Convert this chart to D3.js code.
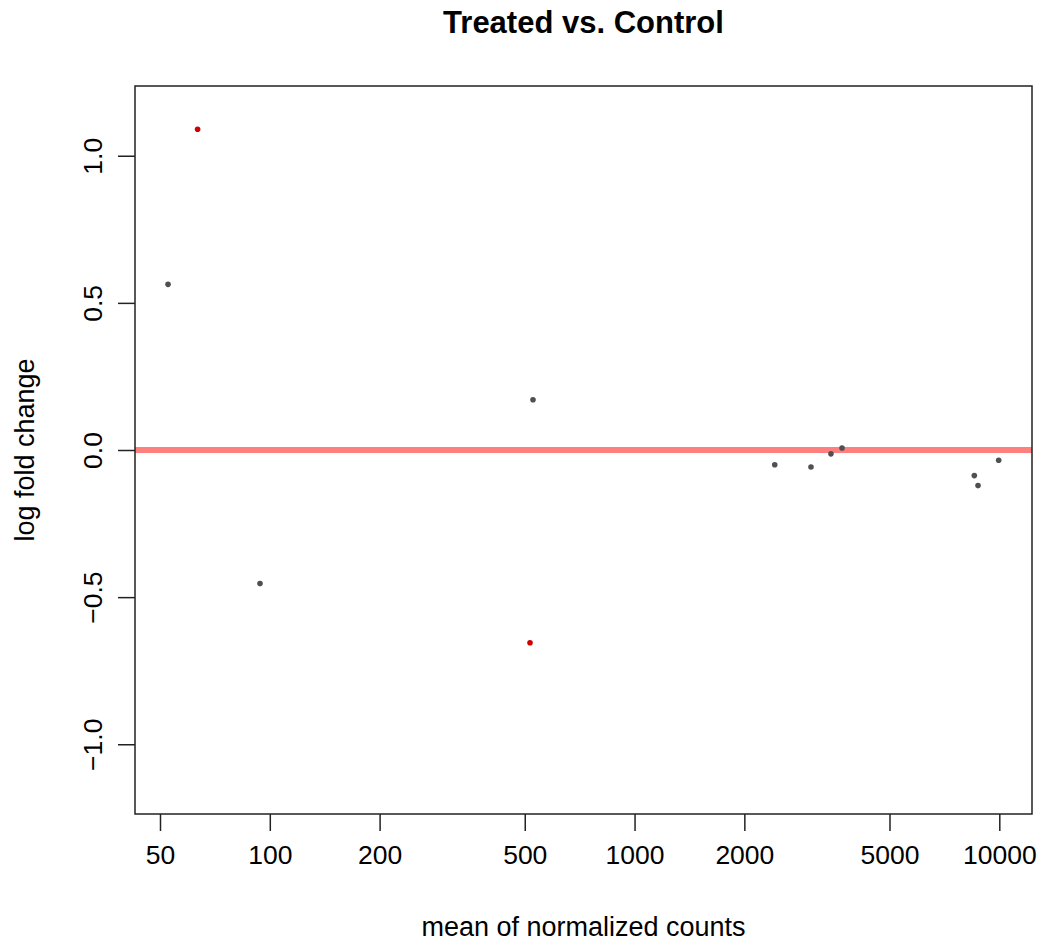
<!DOCTYPE html>
<html>
<head>
<meta charset="utf-8">
<script src="https://cdn.jsdelivr.net/npm/d3@7"></script>
<style>
  body { margin: 0; background: #fff; }
  text { font-family: "Liberation Sans", Arial, sans-serif; fill: #000; }
</style>
</head>
<body>
<div id="chart"></div>
<script>
// mean of normalized counts, log fold change, significant?
let baseMean = [63.4, 52.6, 94.0, 526.7, 516.9, 2423, 3046, 3455, 3705, 8541, 8743, 9961];
let log2FC = [1.090, 0.563, -0.454, 0.171, -0.655, -0.050, -0.058, -0.013, 0.007, -0.087, -0.121, -0.035];
let isSig = [true, false, false, false, true, false, false, false, false, false, false, false];

let xTicks = [50, 100, 200, 500, 1000, 2000, 5000, 10000];
let yTicks = [-1.0, -0.5, 0.0, 0.5, 1.0];

function drawPlot() {
	let width = 1045;
	let height = 947;
	let margin = {top: 86, right: 13, bottom: 133, left: 135};

	let svg = d3.select("#chart")
		.append("svg")
		.attr("width", width)
		.attr("height", height);

	//scales
	const xScale = d3.scaleLog()
		.domain([42.7, 12293])
		.range([margin.left, width - margin.right]);

	const yScale = d3.scaleLinear()
		.domain([-1.237, 1.237])
		.range([height - margin.bottom, margin.top]);

	//x axis
	const xAxis = d3.axisBottom(xScale)
		.tickValues(xTicks)
		.tickFormat(d3.format("d"))
		.tickSize(17)
		.tickPadding(14)
		.tickSizeOuter(0);

	let gx = svg.append("g")
		.attr("class", "axis x_axis")
		.attr("transform", `translate(0,${height - margin.bottom})`)
		.call(xAxis);
	gx.select(".domain").remove();
	gx.selectAll("line").attr("stroke", "#222").attr("stroke-width", 1.5);
	gx.selectAll("text").attr("font-size", 26.5).attr("fill", "#000");

	//y axis, labels rotated like R
	const yAxis = d3.axisLeft(yScale)
		.tickValues(yTicks)
		.tickFormat((d) => d3.format(".1f")(d).replace("-", "\u2212"))
		.tickSize(17)
		.tickSizeOuter(0);

	let gy = svg.append("g")
		.attr("class", "axis y_axis")
		.attr("transform", `translate(${margin.left},0)`)
		.call(yAxis);
	gy.select(".domain").remove();
	gy.selectAll("line").attr("stroke", "#222").attr("stroke-width", 1.5);
	gy.selectAll("text")
		.attr("font-size", 26.5)
		.attr("fill", "#000")
		.attr("x", null)
		.attr("dy", null)
		.attr("text-anchor", "middle")
		.attr("transform", "translate(-42,0) rotate(-90)")
		.attr("dominant-baseline", "central");

	//clip for the plot region
	svg.append("clipPath")
		.attr("id", "plotclip")
		.append("rect")
		.attr("x", margin.left)
		.attr("y", margin.top)
		.attr("width", width - margin.left - margin.right)
		.attr("height", height - margin.top - margin.bottom);

	let plot = svg.append("g").attr("clip-path", "url(#plotclip)");

	//zero line
	plot.append("line")
		.attr("x1", margin.left)
		.attr("x2", width - margin.right)
		.attr("y1", yScale(0))
		.attr("y2", yScale(0))
		.attr("stroke", "#ff7f7f")
		.attr("stroke-width", 6);

	//points
	let points = baseMean.map((d, i) => ({x: d, y: log2FC[i], sig: isSig[i]}));
	plot.selectAll(".circles")
		.data(points)
		.enter()
		.append("circle")
		.attr("class", "circles")
		.attr("cx", (d) => xScale(d.x))
		.attr("cy", (d) => yScale(d.y))
		.attr("r", 2.8)
		.attr("fill", (d) => d.sig ? "#d00000" : "#505050");

	//box
	svg.append("rect")
		.attr("x", margin.left)
		.attr("y", margin.top)
		.attr("width", width - margin.left - margin.right)
		.attr("height", height - margin.top - margin.bottom)
		.attr("fill", "none")
		.attr("stroke", "#222")
		.attr("stroke-width", 1.5);

	//titles
	svg.append("text")
		.attr("x", (margin.left + width - margin.right) / 2)
		.attr("y", 33)
		.attr("text-anchor", "middle")
		.attr("font-size", 31)
		.attr("font-weight", "bold")
		.text("Treated vs. Control");

	svg.append("text")
		.attr("x", (margin.left + width - margin.right) / 2)
		.attr("y", 936)
		.attr("text-anchor", "middle")
		.attr("font-size", 27)
		.text("mean of normalized counts");

	svg.append("text")
		.attr("transform", `translate(34,${(margin.top + height - margin.bottom) / 2}) rotate(-90)`)
		.attr("text-anchor", "middle")
		.attr("font-size", 27)
		.text("log fold change");
}

drawPlot();
</script>
</body>
</html>
